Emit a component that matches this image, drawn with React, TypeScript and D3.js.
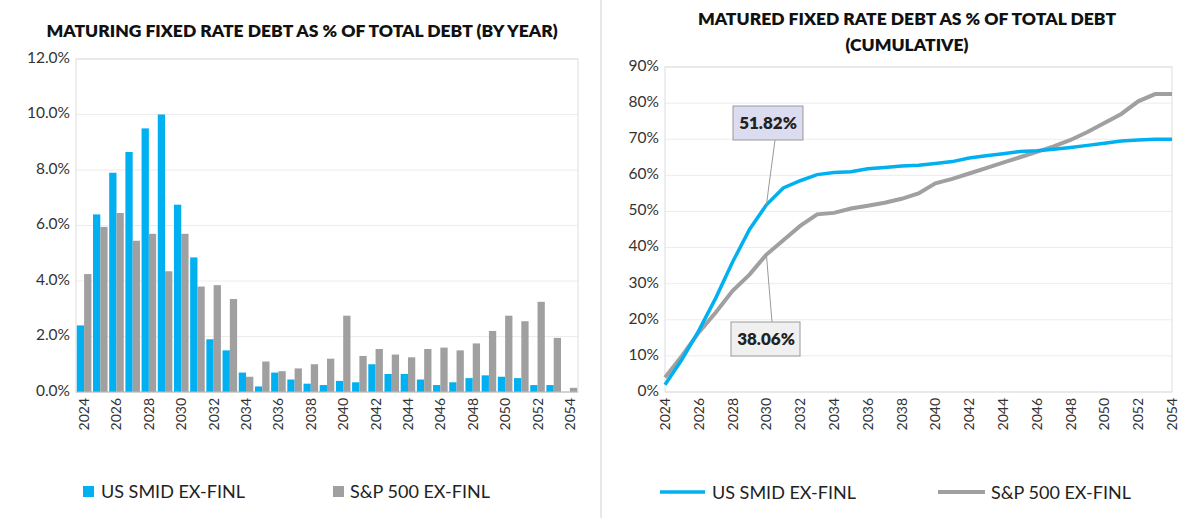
import * as d3 from "d3";
import React from "react";

const years = d3.range(2024, 2055);
const smidByYear = [2.4, 6.4, 7.9, 8.65, 9.5, 10.0, 6.75, 4.85, 1.9, 1.5, 0.7, 0.2, 0.7, 0.45, 0.3, 0.25, 0.4, 0.35, 1.0, 0.65, 0.65, 0.45, 0.25, 0.35, 0.5, 0.6, 0.55, 0.5, 0.25, 0.25, 0];
const spxByYear = [4.25, 5.95, 6.45, 5.45, 5.7, 4.35, 5.7, 3.8, 3.85, 3.35, 0.55, 1.1, 0.75, 0.85, 1.0, 1.2, 2.75, 1.3, 1.55, 1.35, 1.25, 1.55, 1.6, 1.5, 1.75, 2.2, 2.75, 2.55, 3.25, 1.95, 0.15];
const smidCum = [2, 9, 17, 26, 36, 45, 51.82, 56.5, 58.5, 60.2, 60.8, 61, 61.8, 62.2, 62.6, 62.8, 63.3, 63.8, 64.8, 65.4, 66, 66.6, 66.8, 67.2, 67.7, 68.3, 68.9, 69.5, 69.8, 70, 70];
const spxCum = [4, 10, 16.5, 22, 28, 32.5, 38.06, 42, 46, 49.2, 49.6, 50.8, 51.6, 52.4, 53.5, 55, 57.8, 59, 60.5, 62, 63.5, 65, 66.5, 68, 69.8, 72, 74.5, 77, 80.5, 82.5, 82.5];
const leftTicks = [0, 2, 4, 6, 8, 10, 12];
const rightTicks = d3.range(0, 91, 10);

const BLUE = "#00b0f0";
const GRAY = "#a0a0a0";
const FONT = "Lato, 'Open Sans', sans-serif";

export default function App() {
  const W = 1203, H = 518;
  // left chart
  const lx0 = 76, lx1 = 578, top = 59, bot = 392;
  const xb = d3.scaleBand<number>().domain(years).range([lx0, lx1]).paddingInner(0.1).paddingOuter(0.05);
  const yl = d3.scaleLinear().domain([0, 12]).range([bot, top]);
  const half = xb.bandwidth() / 2;
  // right chart
  const rx0 = 665, rx1 = 1172, rtop = 67;
  const xp = d3.scalePoint<number>().domain(years).range([rx0, rx1]);
  const yr = d3.scaleLinear().domain([0, 90]).range([bot, rtop]);
  const line = d3.line<number>().x((_, i) => xp(years[i])!).y(d => yr(d));

  const i30 = years.indexOf(2030);
  const px = xp(2030)!;

  return (
    <svg width={W} height={H} style={{ position: "absolute", left: 0, top: 0, background: "#fff" }} fontFamily={FONT}>
      <line x1={601} x2={601} y1={0} y2={H} stroke="#d0d0d0" />
      <text x={302} y={37} textAnchor="middle" fontSize={17.5} fontWeight={800} fill="#111">MATURING FIXED RATE DEBT AS % OF TOTAL DEBT (BY YEAR)</text>
      <text x={907} y={25} textAnchor="middle" fontSize={17.5} fontWeight={800} fill="#111">MATURED FIXED RATE DEBT AS % OF TOTAL DEBT</text>
      <text x={907} y={51} textAnchor="middle" fontSize={17.5} fontWeight={800} fill="#111">(CUMULATIVE)</text>

      {/* left */}
      {leftTicks.map(t => (
        <g key={t}>
          <line x1={lx0} x2={lx1} y1={yl(t)} y2={yl(t)} stroke="#ececec" />
          <text x={lx0 - 6} y={yl(t)} textAnchor="end" dominantBaseline="middle" fontSize={15.5} fill="#333">{t.toFixed(1)}%</text>
        </g>
      ))}
      <rect x={lx0} y={top} width={lx1 - lx0} height={bot - top} fill="none" stroke="#dedede" />
      {years.map((y, i) => (
        <g key={y}>
          <rect x={xb(y)} y={yl(smidByYear[i])} width={half} height={bot - yl(smidByYear[i])} fill={BLUE} />
          <rect x={xb(y)! + half} y={yl(spxByYear[i])} width={half} height={bot - yl(spxByYear[i])} fill={GRAY} />
          {i % 2 === 0 && (
            <text transform={`translate(${xb(y)! + half + 5},398) rotate(-90)`} textAnchor="end" fontSize={14} fill="#333">{y}</text>
          )}
        </g>
      ))}
      <line x1={lx0} x2={lx1} y1={bot} y2={bot} stroke="#bdbdbd" />
      <rect x={83} y={486} width={11} height={11} fill={BLUE} />
      <text x={101} y={498} fontSize={18} fill="#222">US SMID EX-FINL</text>
      <rect x={333} y={486} width={11} height={11} fill={GRAY} />
      <text x={350} y={498} fontSize={18} fill="#222">S&amp;P 500 EX-FINL</text>

      {/* right */}
      {rightTicks.map(t => (
        <g key={t}>
          <line x1={rx0} x2={rx1} y1={yr(t)} y2={yr(t)} stroke="#ececec" />
          <text x={rx0 - 6} y={yr(t)} textAnchor="end" dominantBaseline="middle" fontSize={15.5} fill="#333">{t}%</text>
        </g>
      ))}
      <rect x={rx0} y={rtop} width={rx1 - rx0} height={bot - rtop} fill="none" stroke="#dedede" />
      {years.map((y, i) => i % 2 === 0 && (
        <text key={y} transform={`translate(${xp(y)! + 5},398) rotate(-90)`} textAnchor="end" fontSize={14} fill="#333">{y}</text>
      ))}
      <path d={line(spxCum)!} fill="none" stroke={GRAY} strokeWidth={4} />
      <path d={line(smidCum)!} fill="none" stroke={BLUE} strokeWidth={3.5} />

      <line x1={775} y1={140} x2={px} y2={yr(smidCum[i30])} stroke="#999" />
      <rect x={733} y={106} width={70} height={34} fill="#dcdcf0" stroke="#999" />
      <text x={768} y={129} textAnchor="middle" fontSize={17} fontWeight={800} fill="#222">{smidCum[i30].toFixed(2)}%</text>
      <line x1={772} y1={322} x2={px} y2={yr(spxCum[i30])} stroke="#999" />
      <rect x={731} y={322} width={69} height={34} fill="#f0f0f0" stroke="#999" />
      <text x={766} y={345} textAnchor="middle" fontSize={17} fontWeight={800} fill="#222">{spxCum[i30].toFixed(2)}%</text>

      <line x1={660} x2={705} y1={492} y2={492} stroke={BLUE} strokeWidth={3.5} />
      <text x={712} y={499} fontSize={18} fill="#222">US SMID EX-FINL</text>
      <line x1={938} x2={985} y1={492} y2={492} stroke={GRAY} strokeWidth={4} />
      <text x={991} y={499} fontSize={18} fill="#222">S&amp;P 500 EX-FINL</text>
    </svg>
  );
}
